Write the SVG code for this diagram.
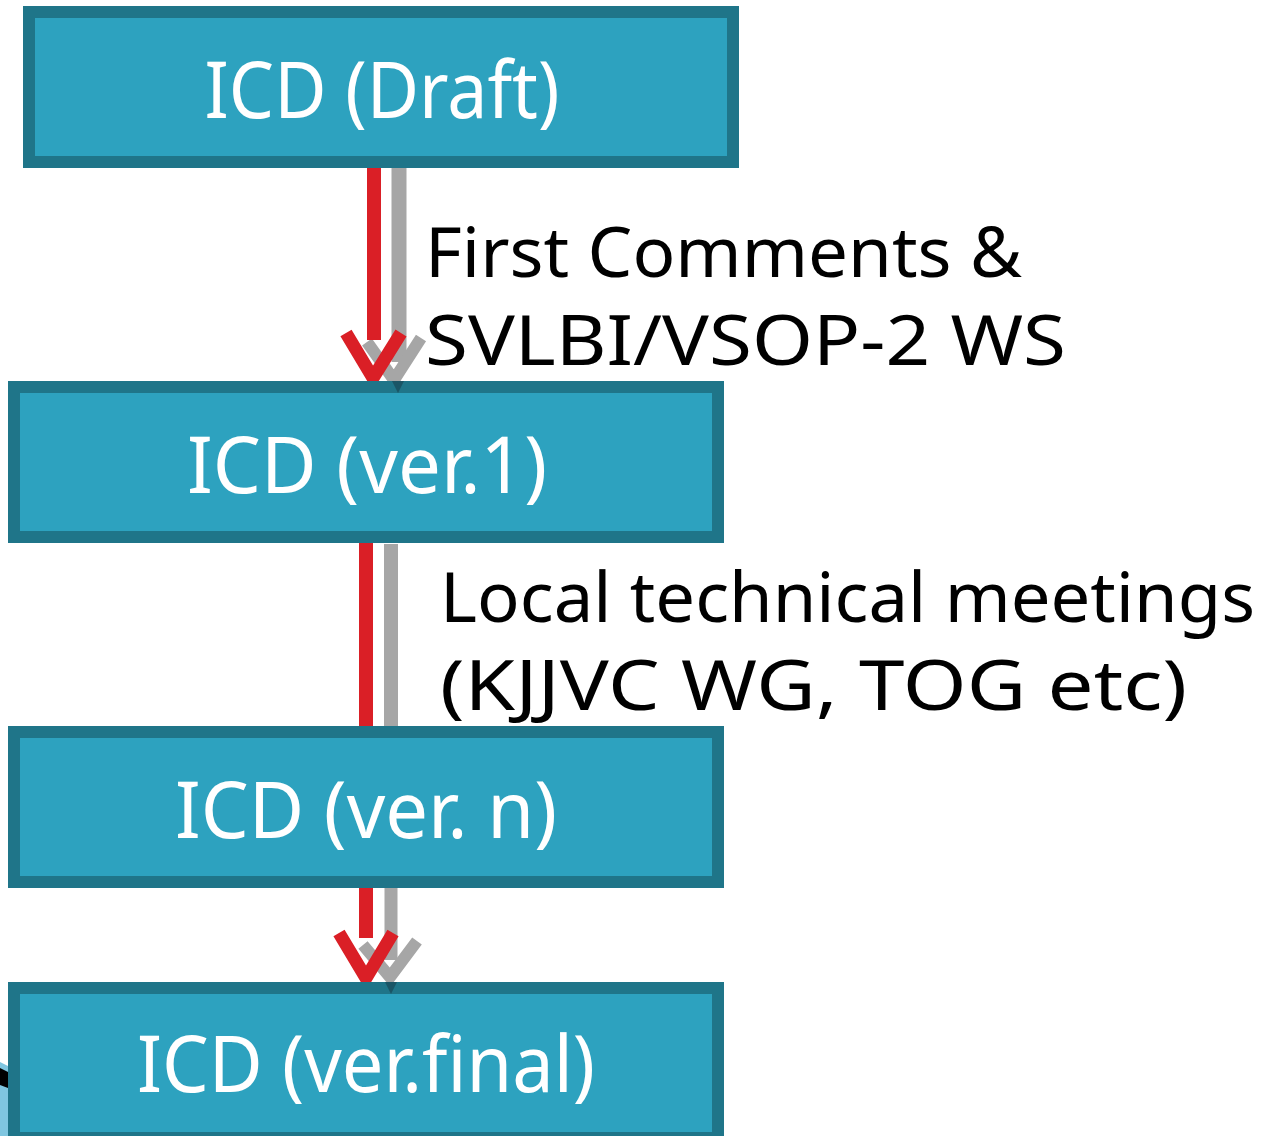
<svg xmlns="http://www.w3.org/2000/svg" width="1263" height="1136" viewBox="0 0 1263 1136">
<defs>
<style>
.box{fill:#2DA2BF;stroke:#1F7589;stroke-width:12}
.bt{font-family:"Noto Sans","Open Sans",sans-serif;font-size:78px;fill:#FFFFFF;text-anchor:middle}
.lt{font-family:"Noto Sans","Open Sans",sans-serif;font-size:70px;fill:#000000}
.red{stroke:#DA1F26;fill:none}
.gray{stroke:#A6A6A6;fill:none}
</style>
</defs>
<rect width="1263" height="1136" fill="#FFFFFF"/>
<g id="artifact">
<polygon points="0,1062 8,1066 8,1136 0,1136" fill="#7FC6E0"/>
<polygon points="0,1068 8,1072 8,1088 0,1085" fill="#000000"/>
</g>
<g id="connectors">
<line class="gray" x1="399" y1="168" x2="399" y2="362" stroke-width="15"/>
<polyline class="gray" points="367,342 394,380 421,338" stroke-width="12"/>
<line class="red" x1="374" y1="162" x2="374" y2="340" stroke-width="14"/>
<polyline class="red" points="346,333 373,378 401,333" stroke-width="13"/>
<line class="gray" x1="391" y1="544" x2="391" y2="730" stroke-width="14"/>
<line class="red" x1="366" y1="537" x2="366" y2="730" stroke-width="14"/>
<line class="gray" x1="391" y1="888" x2="391" y2="960" stroke-width="13"/>
<polyline class="gray" points="363,945 390,977 417,941" stroke-width="12"/>
<line class="red" x1="366" y1="888" x2="366" y2="938" stroke-width="14"/>
<polyline class="red" points="339,933 366,978 393,933" stroke-width="13"/>
</g>
<g id="node-draft">
<rect class="box" x="29" y="12" width="704" height="150"/>
<text class="bt" x="382" y="118" textLength="355" lengthAdjust="spacingAndGlyphs">ICD (Draft)</text>
</g>
<g id="node-ver1">
<rect class="box" x="14" y="387" width="704" height="150"/>
<text class="bt" x="367" y="493" textLength="360" lengthAdjust="spacingAndGlyphs">ICD (ver.1)</text>
</g>
<g id="node-vern">
<rect class="box" x="14" y="732" width="704" height="150"/>
<text class="bt" x="366" y="838" textLength="382" lengthAdjust="spacingAndGlyphs">ICD (ver. n)</text>
</g>
<g id="node-final">
<rect class="box" x="14" y="988" width="704" height="150"/>
<text class="bt" x="366" y="1092" textLength="458" lengthAdjust="spacingAndGlyphs">ICD (ver.final)</text>
</g>
<g id="tips">
<polygon points="392,381 404,381 398,393" fill="#1A5566"/>
<polygon points="385,982 397,982 391,994" fill="#1A5566"/>
</g>
<g id="labels">
<text class="lt" x="425" y="277" textLength="597" lengthAdjust="spacingAndGlyphs">First Comments &amp;</text>
<text class="lt" x="425" y="365" textLength="641" lengthAdjust="spacingAndGlyphs">SVLBI/VSOP-2 WS</text>
<text class="lt" x="440" y="622" textLength="815" lengthAdjust="spacingAndGlyphs">Local technical meetings</text>
<text class="lt" x="440" y="710" textLength="747" lengthAdjust="spacingAndGlyphs">(KJJVC WG, TOG etc)</text>
</g>
</svg>
